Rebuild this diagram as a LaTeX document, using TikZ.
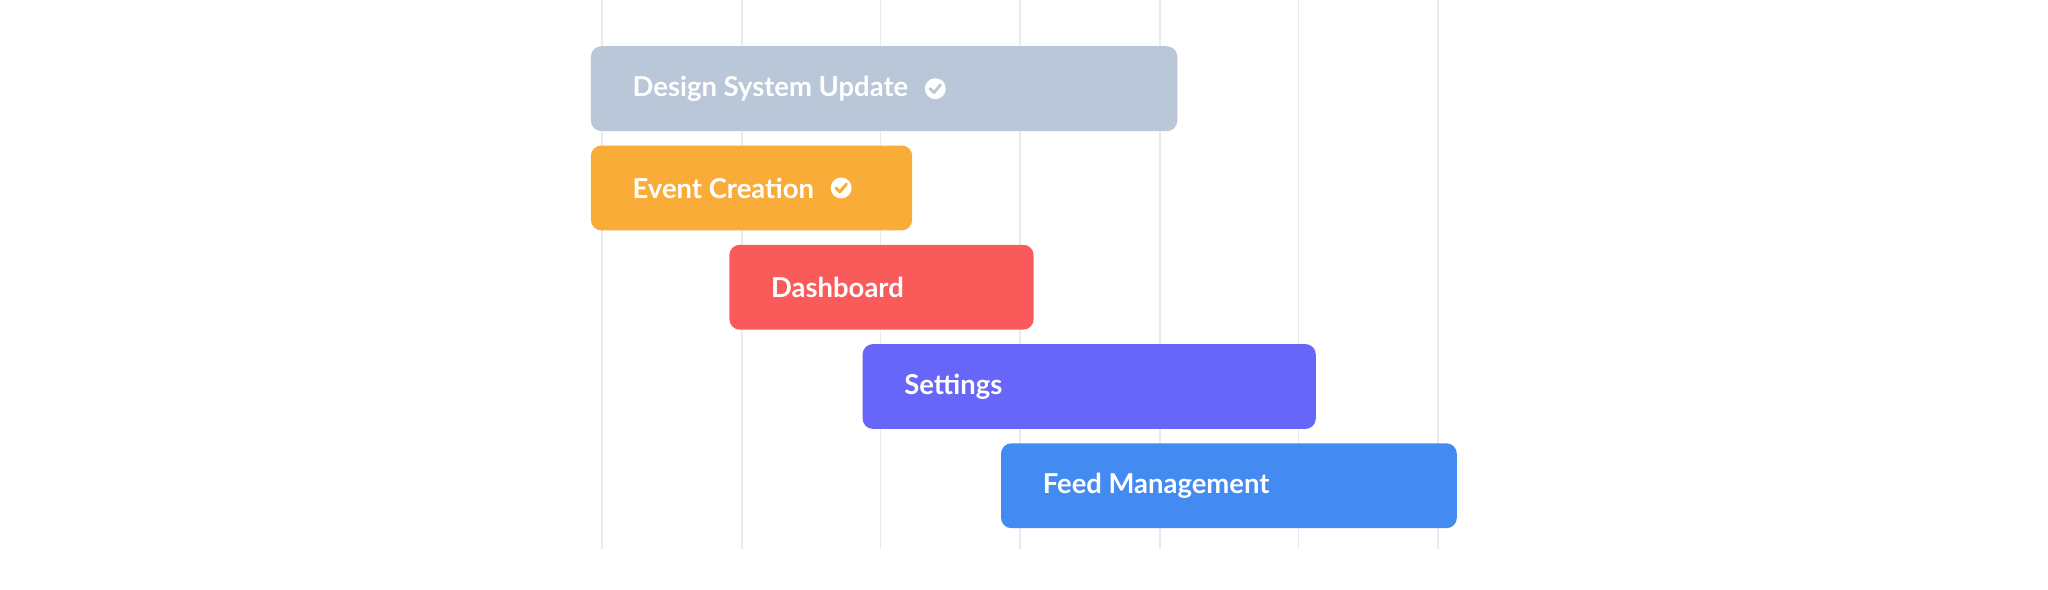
\documentclass[tikz,border=0pt]{standalone}
\usepackage{fontspec}
\setmainfont{Lato}
\usepackage{xcolor}
\usetikzlibrary{positioning,calc}
\definecolor{GridGray}{HTML}{E9EBEE}
\definecolor{BarSlate}{HTML}{B9C7D8}
\definecolor{BarOrange}{HTML}{F9AC38}
\definecolor{BarRed}{HTML}{F95A5A}
\definecolor{BarViolet}{HTML}{6766F8}
\definecolor{BarBlue}{HTML}{438BF0}

\begin{document}
\begin{tikzpicture}[x=0.5pt, y=-0.5pt,
                    bar/.style={rounded corners=4pt, minimum height=32.5pt, inner sep=0pt,
                                anchor=north west},
                    lbl/.style={text=white, font=\bfseries\fontsize{10.5}{12}\selectfont,
                                inner sep=0pt, anchor=west},
                    chk/.style={circle, fill=white, minimum size=8pt, inner sep=0pt}]
\useasboundingbox (0,0) rectangle (1568,451);
% grid
\foreach \gx in {461,568,674,781,888,994,1101}
  \draw[GridGray, line width=0.6pt] (\gx,0) -- (\gx,420);
% bars
\node[bar, fill=BarSlate,  minimum width=224.5pt] (dsu)  at (452,35)  {};
\node[bar, fill=BarOrange, minimum width=123pt]   (evt)  at (452,111) {};
\node[bar, fill=BarRed,    minimum width=116.5pt] (dash) at (558,187) {};
\node[bar, fill=BarViolet, minimum width=173.5pt] (sett) at (660,263) {};
\node[bar, fill=BarBlue,   minimum width=174.5pt] (feed) at (766,339) {};
% labels
\node[lbl] (dsu-t)  at ($(dsu.west)+(32,0)$)  {Design System Update};
\node[lbl] (evt-t)  at ($(evt.west)+(32,0)$)  {Event Creation};
\node[lbl] (dash-t) at ($(dash.west)+(32,0)$) {Dashboard};
\node[lbl] (sett-t) at ($(sett.west)+(32,0)$) {Settings};
\node[lbl] (feed-t) at ($(feed.west)+(32,0)$) {Feed Management};
% done marks
\node[chk, right=6pt of dsu-t] (dsu-c) {};
\draw[BarSlate, line width=1.1pt, line cap=round, line join=round]
  ($(dsu-c)+(-4,0)$) -- ($(dsu-c)+(-1,3)$) -- ($(dsu-c)+(4,-3)$);
\node[chk, right=6pt of evt-t] (evt-c) {};
\draw[BarOrange, line width=1.1pt, line cap=round, line join=round]
  ($(evt-c)+(-4,0)$) -- ($(evt-c)+(-1,3)$) -- ($(evt-c)+(4,-3)$);
\end{tikzpicture}
\end{document}
